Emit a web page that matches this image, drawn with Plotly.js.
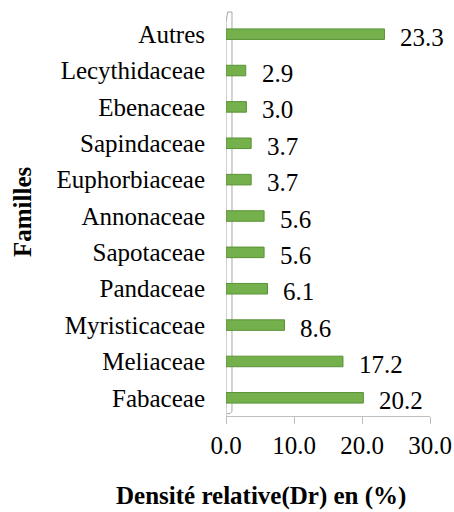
<!DOCTYPE html>
<html>
<head>
<meta charset="utf-8">
<script src="https://cdn.plot.ly/plotly-3.0.1.min.js"></script>
<style>html,body{margin:0;padding:0;background:#fff;}#chart{width:454px;height:512px;}</style>
</head>
<body>
<div id="chart"></div>
<script>
const families = ["Fabaceae","Meliaceae","Myristicaceae","Pandaceae","Sapotaceae","Annonaceae","Euphorbiaceae","Sapindaceae","Ebenaceae","Lecythidaceae","Autres"];
const density = [20.2,17.2,8.6,6.1,5.6,5.6,3.7,3.7,3.0,2.9,23.3];
const xTicks = [0,10,20,30];
const xTickLabels = ["0.0","10.0","20.0","30.0"];

const FONT = "'Liberation Serif', 'Times New Roman', serif";

const trace = {
  type: "bar",
  orientation: "h",
  y: families,
  x: density,
  width: 0.29,
  marker: {color: "#74b04b", line: {color: "#5a9236", width: 1}},
  hoverinfo: "none"
};

const valueAnnotations = families.map((f, i) => ({
  x: density[i], y: f, xref: "x", yref: "y",
  text: density[i].toFixed(1),
  showarrow: false, xanchor: "left", yanchor: "middle",
  xshift: 14, yshift: -3,
  font: {family: FONT, size: 25, color: "#000"}
}));

const layout = {
  width: 454, height: 512,
  margin: {l: 226, r: 24, t: 16, b: 96},
  paper_bgcolor: "#fff", plot_bgcolor: "#fff",
  showlegend: false,
  font: {family: FONT, size: 25, color: "#000"},
  xaxis: {
    range: [0, 30], tickvals: xTicks, ticktext: xTickLabels,
    showgrid: false, zeroline: false,
    showline: true, linecolor: "#bfbfbf", linewidth: 1,
    ticks: "outside", ticklen: 7, tickcolor: "#bfbfbf",
    tickfont: {family: FONT, size: 25, color: "#000"},
    fixedrange: true
  },
  yaxis: {
    type: "category", range: [-0.5, 10.5],
    showgrid: false, zeroline: false, showline: false,
    ticks: "", ticklabelstandoff: 20,
    tickfont: {family: FONT, size: 25, color: "#000"},
    fixedrange: true
  },
  shapes: [{
    type: "path", xref: "x", yref: "paper", layer: "below",
    path: "M 0,0 L 0,0.985 L 0.25,1.01 L 0.88,1.01 L 0.88,0.012 L 0.6,0.006 L 0.1,0.006",
    line: {color: "#a6a6a6", width: 1}, fillcolor: "rgba(0,0,0,0)"
  }],
  annotations: valueAnnotations.concat([
    {xref: "paper", yref: "paper", x: 0.17, y: -0.2, xanchor: "center", yanchor: "middle",
     text: "<b>Densité relative(Dr) en (%)</b>", showarrow: false,
     font: {family: FONT, size: 25, color: "#000"}},
    {xref: "paper", yref: "paper", x: -1.0, y: 0.51, xanchor: "center", yanchor: "middle",
     text: "<b>Familles</b>", textangle: -90, showarrow: false,
     font: {family: FONT, size: 25, color: "#000"}}
  ])
};

Plotly.newPlot("chart", [trace], layout, {displayModeBar: false, staticPlot: true});
</script>
</body>
</html>
